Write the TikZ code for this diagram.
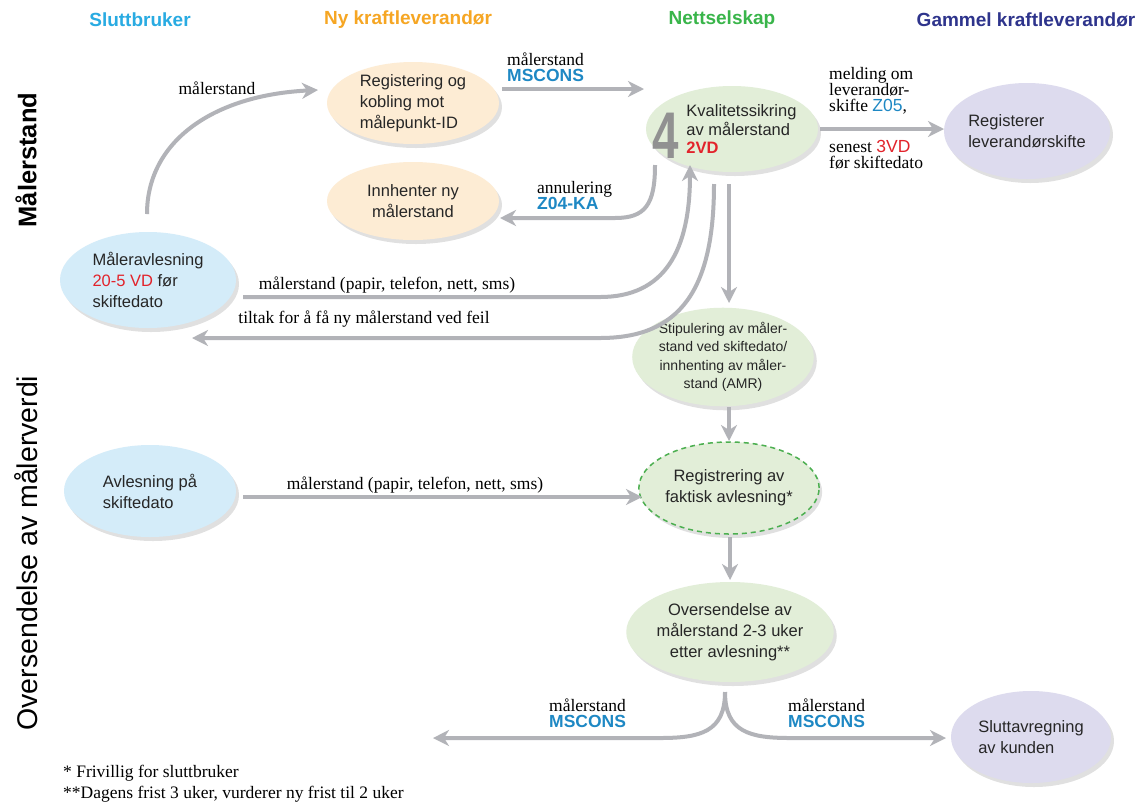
\documentclass[tikz,border=0pt]{standalone}
\usepackage{fontspec}
\setmainfont{Liberation Serif}
\newfontfamily\arial{Liberation Sans}
\usetikzlibrary{arrows.meta,shapes.geometric}
\definecolor{agray}{RGB}{178,179,184}
\definecolor{hblue}{RGB}{41,171,226}
\definecolor{horange}{RGB}{246,166,35}
\definecolor{hgreen}{RGB}{57,181,74}
\definecolor{hnavy}{RGB}{46,52,140}
\definecolor{fblue}{RGB}{212,236,249}
\definecolor{forange}{RGB}{253,236,212}
\definecolor{fgreen}{RGB}{226,238,216}
\definecolor{flav}{RGB}{221,219,238}
\definecolor{codeblue}{RGB}{30,136,196}
\definecolor{codered}{RGB}{226,35,43}
\definecolor{dgreen}{RGB}{76,175,80}
\definecolor{numgray}{RGB}{145,145,145}
\newcommand{\blueb}[1]{{\arial\bfseries\color{codeblue}#1}}
\newcommand{\bluer}[1]{{\arial\color{codeblue}#1}}
\newcommand{\redr}[1]{{\arial\color{codered}#1}}
\newcommand{\redb}[1]{{\arial\bfseries\color{codered}#1}}
\tikzset{
  header/.style={font=\arial\bfseries\fontsize{19}{22}\selectfont, inner sep=0pt},
  ell/.style={ellipse, inner sep=0pt, text=black!85,
    font=\arial\fontsize{16.5}{21}\selectfont,
    preaction={fill=black, opacity=0.12, transform canvas={xshift=3pt, yshift=-4pt}}},
  lab/.style={font=\fontsize{17.5}{16}\selectfont, inner sep=0pt, align=left},
  flow/.style={draw=agray, line width=4pt,
    -{Stealth[length=16pt, width=16pt, inset=5pt]}}
}
\begin{document}
\begin{tikzpicture}[x=1pt,y=-1pt]
\useasboundingbox[fill=white] (0,0) rectangle (1147,804);

% headers
\node[header, text=hblue]   (h1) at (140,20) {Sluttbruker};
\node[header, text=horange] (h2) at (408,20) {Ny kraftleverandør};
\node[header, text=hgreen]  (h3) at (722,20) {Nettselskap};
\node[header, text=hnavy]   (h4) at (1026,20) {Gammel kraftleverandør};

% side labels
\node[rotate=90, inner sep=0pt, font=\arial\bfseries\fontsize{25.5}{26}\selectfont] (s1) at (26,160) {Målerstand};
\node[rotate=90, inner sep=0pt, font=\arial\fontsize{28.5}{29}\selectfont] (s2) at (26,553) {Oversendelse av målerverdi};

% nodes
\node[ell, fill=forange, minimum width=172pt, minimum height=82pt, align=left] (reg) at (413,103)
  {Registering og\\kobling mot\\målepunkt-ID};
\node[ell, fill=forange, minimum width=172pt, minimum height=78pt, align=center] (inn) at (413,201)
  {Innhenter ny\\målerstand};
\node[ell, fill=fgreen, minimum width=172pt, minimum height=86pt, font=\arial\fontsize{16.5}{18}\selectfont] (kval) at (732,129)
  {\makebox[0pt][l]{\hspace{-80pt}\smash{\raisebox{-29pt}{{\color{numgray}\bfseries\fontsize{66}{66}\selectfont\scalebox{0.72}[1]{4}}\hspace{8pt}%
   \raisebox{5pt}{\begin{tabular}[b]{@{}l@{}}Kvalitetssikring\\av målerstand\\\redb{2VD}\end{tabular}}}}}};
\node[ell, fill=flav, minimum width=158pt, minimum height=96pt, align=left] (regl) at (1027,131)
  {Registerer\\leverandørskifte};
\node[ell, fill=fblue, minimum width=176pt, minimum height=96pt, align=left] (mal) at (148,280)
  {Måleravlesning\\\redr{20-5 VD} før\\skiftedato};
\node[ell, fill=fblue, minimum width=172pt, minimum height=92pt, align=left] (avl) at (150,491)
  {Avlesning på\\skiftedato};
\node[ell, fill=fgreen, minimum width=157pt, minimum height=96pt, align=center,
  font=\arial\fontsize{14}{18.5}\selectfont] (stip) at (723,357)
  {Stipulering av måler-\\stand ved skiftedato/\\innhenting av måler-\\stand (AMR)};
\node[ell, fill=fgreen, draw=dgreen, line width=1.5pt, dash pattern=on 5pt off 4pt,
  minimum width=168pt, minimum height=92pt, align=center] (regf) at (729,488)
  {Registrering av\\faktisk avlesning*};
\node[ell, fill=fgreen, minimum width=162pt, minimum height=100pt, align=center] (overs) at (730,632)
  {Oversendelse av\\målerstand 2-3 uker\\etter avlesning**};
\node[ell, fill=flav, minimum width=160pt, minimum height=92pt, align=left] (slutt) at (1031,737)
  {Sluttavregning\\av kunden};

% helper coordinates
\coordinate (a1s) at (147,214);
\coordinate (a1e) at (318,90);
\coordinate (a2s) at (502,89);
\coordinate (a2e) at (644,89);
\coordinate (a3s) at (820,129);
\coordinate (a3e) at (944,129);
\coordinate (a4s) at (655,165);
\coordinate (a4m) at (615,218);
\coordinate (a4e) at (500,218);
\coordinate (a5s) at (243,297);
\coordinate (a5m) at (600,297);
\coordinate (a5e) at (690,165);
\coordinate (a6s) at (714,184);
\coordinate (a6m) at (600,338);
\coordinate (a6e) at (192,338);
\coordinate (a7s) at (729,184);
\coordinate (a7e) at (729,303);
\coordinate (a8s) at (729,407);
\coordinate (a8e) at (729,441);
\coordinate (a9s) at (243,497);
\coordinate (a9e) at (642,497);
\coordinate (a10s) at (730,537);
\coordinate (a10e) at (730,580);
\coordinate (a11s) at (725,692);
\coordinate (a11l) at (433,738);
\coordinate (a11r) at (946,738);

% arrows
\draw[flow] (a1s) .. controls (147,140) and (215,95) .. (a1e);
\draw[flow] (a2s) -- (a2e);
\draw[flow] (a3s) -- (a3e);
\draw[flow] (a4s) .. controls (655,205) and (645,218) .. (a4m) -- (a4e);
\draw[flow] (a5s) -- (a5m) .. controls (665,297) and (690,250) .. (a5e);
\draw[flow] (a6s) .. controls (714,290) and (680,338) .. (a6m) -- (a6e);
\draw[flow] (a7s) -- (a7e);
\draw[flow] (a8s) -- (a8e);
\draw[flow] (a9s) -- (a9e);
\draw[flow] (a10s) -- (a10e);
\draw[flow] (a11s) .. controls (725,732) and (700,738) .. (660,738) -- (a11l);
\draw[flow] (a11s) .. controls (725,732) and (750,738) .. (790,738) -- (a11r);

% labels
\node[lab] (l1) at (217,88) {målerstand};
\node[lab, anchor=west] (l2) at (507,67) {målerstand\\\blueb{MSCONS}};
\node[lab, anchor=west] (l3) at (829,91) {melding om\\leverandør-\\skifte \bluer{Z05},};
\node[lab, anchor=west] (l4) at (829,155) {senest \redr{3VD}\\før skiftedato};
\node[lab, anchor=west] (l5) at (537,196) {annulering\\\blueb{Z04-KA}};
\node[lab] (l6) at (387,285) {målerstand (papir, telefon, nett, sms)};
\node[lab] (l7) at (364,319) {tiltak for å få ny målerstand ved feil};
\node[lab] (l8) at (415,485) {målerstand (papir, telefon, nett, sms)};
\node[lab, anchor=west] (l9) at (549,713) {målerstand\\\blueb{MSCONS}};
\node[lab, anchor=west] (l10) at (788,713) {målerstand\\\blueb{MSCONS}};

% footnotes
\node[lab, anchor=west] (f1) at (63,773) {* Frivillig for sluttbruker};
\node[lab, anchor=west] (f2) at (63,794) {**Dagens frist 3 uker, vurderer ny frist til 2 uker};
\end{tikzpicture}
\end{document}
